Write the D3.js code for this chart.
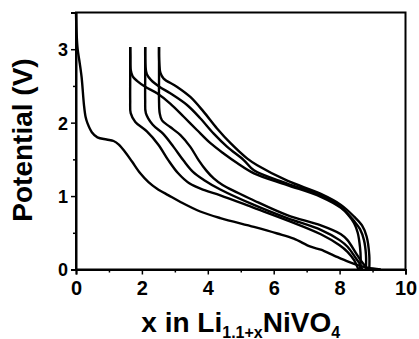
<!DOCTYPE html>
<html>
<head>
<meta charset="utf-8">
<script src="https://cdn.jsdelivr.net/npm/d3@7"></script>
<style>
  html, body { margin: 0; padding: 0; background: #fff; }
  svg { display: block; }
  text { font-family: "Liberation Sans", Arial, Helvetica, sans-serif; font-weight: bold; fill: #000; }
</style>
</head>
<body>
<svg id="chart" width="419" height="339"></svg>
<script>
// ---- data (x in Li1.1+xNiVO4, Potential in V) ----
const xTicks = [0, 2, 4, 6, 8, 10];
const yTicks = [0, 1, 2, 3];
const xLabel = ["x in Li", "1.1+x", "NiVO", "4"];
const yLabel = "Potential (V)";

const discharge1 = [[0,3.5],[0.02,3.2],[0.05,3.0],[0.1,2.85],[0.17,2.62],[0.24,2.25],[0.29,2.08],[0.35,1.99],[0.48,1.87],[0.65,1.80],[0.93,1.77],[1.14,1.75],[1.30,1.70],[1.49,1.60],[1.70,1.47],[1.95,1.31],[2.20,1.19],[2.46,1.10],[2.81,1.01],[3.17,0.92],[3.77,0.79],[4.38,0.70],[5.40,0.58],[6.11,0.49],[6.61,0.42],[7.12,0.31],[7.43,0.27],[7.83,0.19],[8.24,0.11],[8.55,0.06],[8.85,0.025],[9.25,0]];

const charge1 = [[8.62,0],[8.64,0.15],[8.62,0.3],[8.55,0.5],[8.44,0.63],[8.25,0.75],[8.04,0.84],[7.43,0.99],[6.41,1.15],[5.40,1.31],[4.89,1.45],[4.48,1.58],[4.08,1.72],[3.67,1.90],[3.27,2.08],[2.86,2.26],[2.46,2.40],[2.10,2.49],[1.85,2.57],[1.72,2.63],[1.66,2.72],[1.65,2.9],[1.645,3.03]];
const charge2 = [[8.80,0],[8.80,0.2],[8.74,0.4],[8.62,0.55],[8.44,0.66],[8.04,0.85],[7.43,1.01],[6.41,1.17],[5.40,1.35],[5.09,1.49],[4.59,1.67],[4.18,1.85],[3.77,2.06],[3.37,2.24],[2.86,2.40],[2.53,2.49],[2.28,2.58],[2.15,2.66],[2.11,2.76],[2.10,2.9],[2.10,3.03]];
const charge3 = [[8.90,0],[8.90,0.2],[8.82,0.45],[8.68,0.6],[8.44,0.72],[8.04,0.88],[7.43,1.03],[6.41,1.21],[5.50,1.42],[5.20,1.51],[4.69,1.72],[4.28,1.92],[3.87,2.15],[3.47,2.35],[3.06,2.49],[2.66,2.60],[2.56,2.68],[2.53,2.80],[2.52,2.9],[2.52,3.03]];

const discharge2 = [[1.645,3.03],[1.645,2.6],[1.645,2.3],[1.66,2.13],[1.80,2.01],[2.15,1.88],[2.50,1.70],[2.80,1.49],[3.10,1.31],[3.45,1.17],[3.90,1.08],[4.38,1.01],[5.40,0.84],[6.41,0.67],[7.43,0.48],[8.00,0.33],[8.24,0.24],[8.45,0.12],[8.54,0.035],[8.58,0]];
const discharge3 = [[2.10,3.03],[2.10,2.6],[2.10,2.3],[2.12,2.13],[2.33,1.97],[2.64,1.85],[2.96,1.67],[3.27,1.48],[3.55,1.33],[3.88,1.22],[4.38,1.09],[5.40,0.88],[6.41,0.70],[7.43,0.54],[8.00,0.40],[8.24,0.31],[8.50,0.15],[8.65,0.05],[8.68,0]];
const discharge4 = [[2.52,3.03],[2.52,2.6],[2.52,2.3],[2.54,2.13],[2.61,2.03],[2.86,1.94],[3.17,1.83],[3.47,1.67],[3.72,1.49],[3.95,1.35],[4.18,1.24],[4.45,1.15],[5.40,0.94],[6.41,0.74],[7.43,0.60],[8.04,0.48],[8.24,0.40],[8.50,0.22],[8.65,0.12],[8.80,0.03],[8.85,0]];

const curves = [discharge1, charge1, discharge2, charge2, discharge3, charge3, discharge4];

// ---- layout ----
const svg = d3.select("#chart");
const L = 76, R = 405.5, T = 12.5, B = 269.5;
const x = d3.scaleLinear().domain([0, 10]).range([L, R]);
const y = d3.scaleLinear().domain([0, 3.5]).range([B, T]);

// frame
svg.append("rect").attr("x", L).attr("y", T).attr("width", R - L).attr("height", B - T)
  .attr("fill", "none").attr("stroke", "#000").attr("stroke-width", 2);

// x axis
const xAxis = d3.axisBottom(x).tickValues(xTicks).tickSize(5).tickPadding(3).tickFormat(d3.format("d"));
const gx = svg.append("g").attr("transform", `translate(0,${B})`).call(xAxis);
gx.select(".domain").attr("stroke-width", 2);
gx.selectAll(".tick line").attr("stroke-width", 1.5);
gx.selectAll(".tick text").style("font-size", "20px").attr("dy", "0.85em");
const gxm = svg.append("g").attr("transform", `translate(0,${B})`)
  .call(d3.axisBottom(x).tickValues([1,3,5,7,9]).tickSize(3).tickFormat(""));
gxm.select(".domain").remove();
gxm.selectAll(".tick line").attr("stroke-width", 1.5);

// y axis
const yAxis = d3.axisLeft(y).tickValues(yTicks).tickSize(5).tickPadding(3).tickFormat(d3.format("d"));
const gy = svg.append("g").attr("transform", `translate(${L},0)`).call(yAxis);
gy.select(".domain").attr("stroke-width", 2);
gy.selectAll(".tick line").attr("stroke-width", 1.5);
gy.selectAll(".tick text").style("font-size", "18px").attr("dy", "0.36em");
const gym = svg.append("g").attr("transform", `translate(${L},0)`)
  .call(d3.axisLeft(y).tickValues([0.5,1.5,2.5]).tickSize(3).tickFormat(""));
gym.select(".domain").remove();
gym.selectAll(".tick line").attr("stroke-width", 1.5);
svg.selectAll(".tick text").style("font-family", "'Liberation Sans', Arial, sans-serif").style("font-weight", "bold");

// curves
const line = d3.line().x(d => x(d[0])).y(d => y(d[1])).curve(d3.curveCatmullRom.alpha(0.5));
svg.append("g").selectAll("path").data(curves).join("path")
  .attr("d", line).attr("fill", "none").attr("stroke", "#000")
  .attr("stroke-width", 2.4).attr("stroke-linejoin", "round");

// axis titles
const xt = svg.append("text").attr("x", (L + R) / 2).attr("y", 331.5)
  .attr("text-anchor", "middle").style("font-size", "28px");
xt.append("tspan").text(xLabel[0]);
xt.append("tspan").text(xLabel[1]).style("font-size", "16px").attr("dy", 6);
xt.append("tspan").text(xLabel[2]).attr("dy", -6);
xt.append("tspan").text(xLabel[3]).style("font-size", "16px").attr("dy", 6);

svg.append("text").attr("transform", `translate(32,140) rotate(-90)`)
  .attr("text-anchor", "middle").style("font-size", "28px").text(yLabel);
</script>
</body>
</html>
